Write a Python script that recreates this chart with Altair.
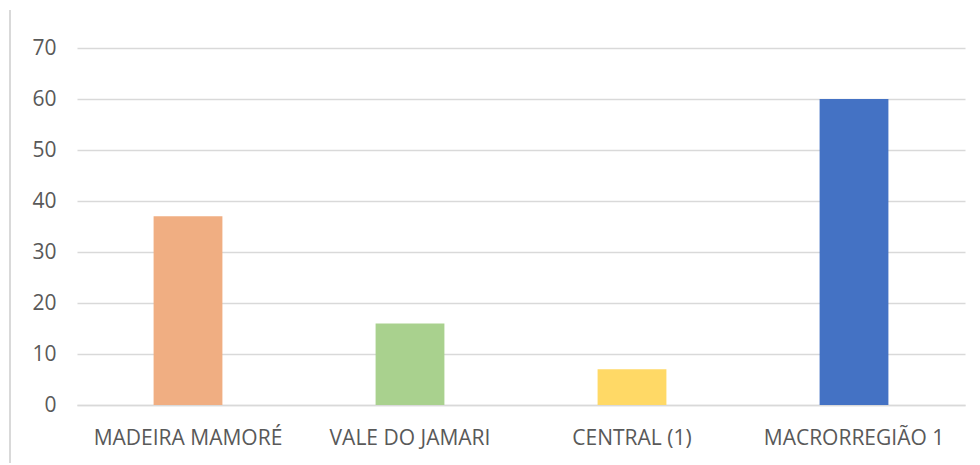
import altair as alt
import pandas as pd

categories = ["MADEIRA MAMORÉ", "VALE DO JAMARI", "CENTRAL (1)", "MACRORREGIÃO 1"]
values = [37, 16, 7, 60]
colors = ["#F0AE82", "#A9D18E", "#FFD966", "#4472C4"]
y_ticks = [0, 10, 20, 30, 40, 50, 60, 70]

df = pd.DataFrame({"cat": categories, "val": values})

FONT = "Open Sans, Lato, sans-serif"

bars = alt.Chart(df).mark_bar().encode(
    x=alt.X("cat:N", sort=categories,
            scale=alt.Scale(paddingInner=0.69, paddingOuter=0.345),
            axis=alt.Axis(title=None, labelAngle=0, ticks=False, domain=True,
                          domainColor="#d9d9d9", domainWidth=1.5,
                          labelFont=FONT, labelFontSize=21, labelColor="#595959",
                          labelPadding=22, labelLimit=400)),
    y=alt.Y("val:Q", scale=alt.Scale(domain=[0, 70], nice=False),
            axis=alt.Axis(title=None, values=y_ticks, ticks=False, domain=False,
                          grid=True, gridColor="#d9d9d9", gridWidth=1.5,
                          labelFont=FONT, labelFontSize=21, labelColor="#595959",
                          labelPadding=21)),
    color=alt.Color("cat:N", sort=categories,
                    scale=alt.Scale(domain=categories, range=colors), legend=None),
)

border = alt.Chart(df).mark_rule(color="#d9d9d9", strokeWidth=2).encode(
    x=alt.value(-67), y=alt.value(-38), y2=alt.value(420)
)

chart = alt.layer(border, bars).properties(
    width=888, height=357,
    autosize=alt.AutoSizeParams(type="none"),
    padding={"left": 69, "top": 40, "right": 5, "bottom": 58},
).configure_view(stroke=None)

chart.save("out.html", embed_options={"renderer": "svg", "actions": False})
